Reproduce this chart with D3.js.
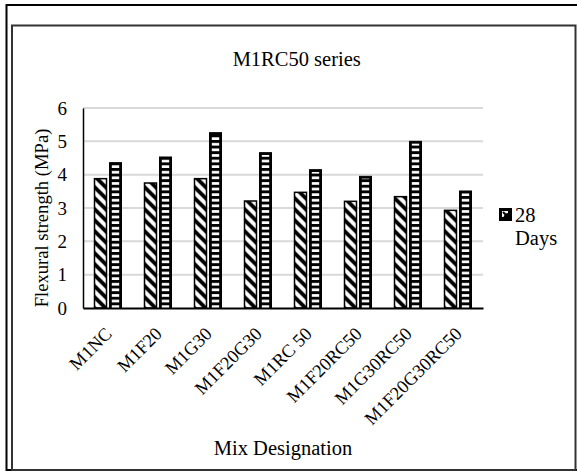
<!DOCTYPE html>
<html>
<head>
<meta charset="utf-8">
<script src="https://cdn.jsdelivr.net/npm/d3@7"></script>
<style>
  html, body { margin: 0; padding: 0; background: #fff; }
  svg { display: block; }
  svg text { font-family: "Liberation Serif", serif; fill: #000; }
</style>
</head>
<body>
<svg id="chart" width="577" height="472" font-family="Liberation Serif, serif"></svg>
<script>
// Mix designations along the x axis
const categories = ["M1NC", "M1F20", "M1G30", "M1F20G30", "M1RC 50", "M1F20RC50", "M1G30RC50", "M1F20G30RC50"];
// Flexural strength (MPa), first (diagonal hatch) series
const seriesAValues = [3.88, 3.75, 3.88, 3.21, 3.47, 3.20, 3.34, 2.93];
// Flexural strength (MPa), second (horizontal stripe) series
const seriesBValues = [4.36, 4.53, 5.26, 4.66, 4.15, 3.95, 5.00, 3.51];
const seriesKeys = ["a", "b"];
const yTicks = [0, 1, 2, 3, 4, 5, 6];
const legendLines = ["28", "Days"];
const titleText = "M1RC50 series";
const xTitleText = "Mix Designation";
const yTitleText = "Flexural strength (MPa)";

const FONT = "Liberation Serif, serif";
const svg = d3.select("#chart");
const defs = svg.append("defs");

// Diagonal "\" hatch used by the first series
const hatch = defs.append("pattern")
  .attr("id", "hatch").attr("patternUnits", "userSpaceOnUse")
  .attr("width", 11).attr("height", 11);
hatch.append("rect").attr("width", 11).attr("height", 11).attr("fill", "#fff");
hatch.append("path")
  .attr("d", "M-2,-2 L13,13 M-2,9 L2,13 M9,-2 L13,2")
  .attr("stroke", "#000").attr("stroke-width", 3.8);

// Horizontal stripes used inside the second series
const stripes = defs.append("pattern")
  .attr("id", "stripes").attr("patternUnits", "userSpaceOnUse")
  .attr("width", 10).attr("height", 5.6);
stripes.append("rect").attr("width", 10).attr("height", 5.6).attr("fill", "#000");
stripes.append("rect").attr("y", 2.9).attr("width", 10).attr("height", 2.7).attr("fill", "#fff");

// Frames
svg.append("rect").attr("x", 6.5).attr("y", 5).attr("width", 580).attr("height", 465)
  .attr("fill", "none").attr("stroke", "#000").attr("stroke-width", 2);
svg.append("rect").attr("x", 12).attr("y", 25.5).attr("width", 563.5).attr("height", 444.5)
  .attr("fill", "none").attr("stroke", "#333").attr("stroke-width", 2);

// Scales
const plot = { left: 83, right: 483, top: 108, bottom: 308 };
const x0 = d3.scaleBand().domain(categories).range([plot.left, plot.right])
  .paddingInner(0.46).paddingOuter(0.23);
const x1 = d3.scaleBand().domain(seriesKeys).range([0, x0.bandwidth()]).paddingInner(0.2);
const y = d3.scaleLinear().domain([0, 6]).range([plot.bottom, plot.top]);

// Gridlines
svg.append("g").selectAll("line").data(yTicks.filter(t => t > 0)).join("line")
  .attr("x1", plot.left).attr("x2", plot.right)
  .attr("y1", d => y(d)).attr("y2", d => y(d))
  .attr("stroke", "#d9d9d9").attr("stroke-width", 2);

// Y axis tick labels
const yAxis = d3.axisLeft(y).tickValues(yTicks).tickSize(0).tickPadding(16).tickFormat(d3.format("d"));
const yg = svg.append("g").attr("transform", `translate(${plot.left},0)`).call(yAxis)
  .attr("font-family", FONT);
yg.select(".domain").attr("stroke", "#000").attr("stroke-width", 1.5);
yg.selectAll("text").style("font-size", "19px").attr("fill", "#000");

// Bars
const rows = categories.map((c, i) => ({ cat: c, a: seriesAValues[i], b: seriesBValues[i] }));
const groups = svg.append("g").selectAll("g").data(rows).join("g")
  .attr("transform", d => `translate(${x0(d.cat)},0)`);

groups.append("rect")
  .attr("x", x1("a")).attr("width", x1.bandwidth())
  .attr("y", d => y(d.a)).attr("height", d => y(0) - y(d.a))
  .attr("fill", "url(#hatch)").attr("stroke", "#000").attr("stroke-width", 1.5);

const inset = 2.3;
groups.append("rect")
  .attr("x", x1("b")).attr("width", x1.bandwidth())
  .attr("y", d => y(d.b)).attr("height", d => y(0) - y(d.b))
  .attr("fill", "#000").attr("stroke", "#000").attr("stroke-width", 1);
groups.append("rect")
  .attr("x", x1("b") + inset).attr("width", x1.bandwidth() - 2 * inset)
  .attr("y", d => y(d.b) + inset).attr("height", d => Math.max(0, y(0) - y(d.b) - inset))
  .attr("fill", "url(#stripes)");

// X axis line
const xAxis = d3.axisBottom(x0).tickSize(0).tickFormat("");
const xg = svg.append("g").attr("transform", `translate(0,${plot.bottom})`).call(xAxis);
xg.select(".domain").attr("stroke", "#000").attr("stroke-width", 2);

// X category labels, rotated
svg.append("g").selectAll("text").data(categories).join("text")
  .attr("transform", d => `translate(${x0(d) + x0.bandwidth() / 2 + 5},${plot.bottom + 27}) rotate(-45)`)
  .attr("text-anchor", "end")
  .attr("font-family", FONT)
  .style("font-size", "18.4px")
  .text(d => d);

// Titles
svg.append("text").attr("x", 296.7).attr("y", 66).attr("text-anchor", "middle")
  .attr("font-family", FONT).style("font-size", "20.5px").text(titleText);
svg.append("text").attr("x", 283).attr("y", 455).attr("text-anchor", "middle")
  .attr("font-family", FONT).style("font-size", "20.5px").text(xTitleText);
svg.append("text").attr("transform", `translate(48,${(plot.top + plot.bottom) / 2 + 10}) rotate(-90)`)
  .attr("text-anchor", "middle").attr("font-family", FONT)
  .style("font-size", "18.6px").text(yTitleText);

// Legend: swatch and two-line label
const legend = svg.append("g").attr("transform", "translate(499,208)");
legend.append("rect").attr("x", 1).attr("y", 1).attr("width", 11).attr("height", 11)
  .attr("fill", "#000").attr("stroke", "#000").attr("stroke-width", 2);
legend.append("path").attr("d", "M3,3 L9,3 L9,5 Q6,5 4.5,9 L3,9 Z").attr("fill", "#fff");
legend.append("path").attr("d", "M4,4 L10,10").attr("stroke", "#000").attr("stroke-width", 2);
legend.selectAll("text.lg").data(legendLines).join("text")
  .attr("class", "lg")
  .attr("x", 16).attr("y", (d, i) => 14 + i * 23)
  .attr("font-family", FONT)
  .style("font-size", "20.5px").text(d => d);
</script>
</body>
</html>
